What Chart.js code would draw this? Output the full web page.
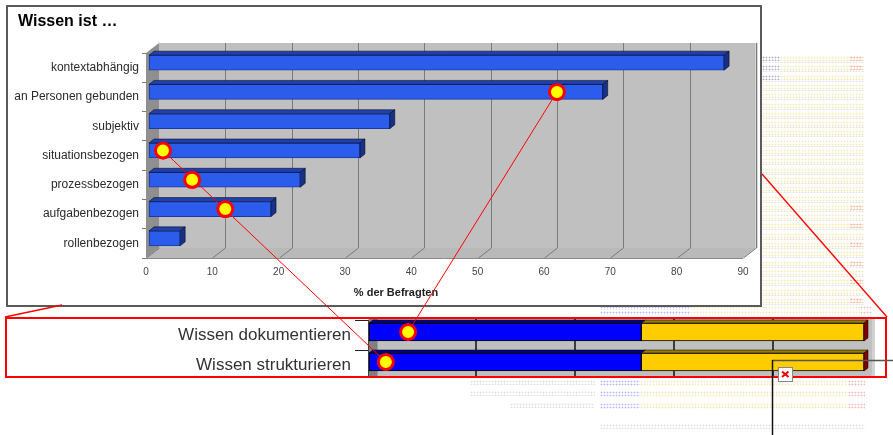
<!DOCTYPE html>
<html><head><meta charset="utf-8">
<script src="https://cdn.jsdelivr.net/npm/chart.js@4.4.0/dist/chart.umd.min.js"></script>
<style>
html,body{margin:0;padding:0;background:#fff;width:893px;height:435px;overflow:hidden;}
body{position:relative;font-family:Arial,"Liberation Sans",sans-serif;}
#topBox{position:absolute;left:6px;top:5px;width:752px;height:298px;border:2px solid #5a5a5a;background:#fff;z-index:2;}
#topBox canvas{position:absolute;left:0;top:0;}
#botBox{position:absolute;left:5px;top:317px;width:878px;height:57px;border:2px solid #ff0000;background:#fff;overflow:hidden;z-index:2;}
#botBox canvas{position:absolute;left:0;top:-20px;}
#overlay{position:absolute;left:0;top:0;z-index:5;pointer-events:none;}
.ghost{position:absolute;z-index:1;background-size:3px 3px;}
</style>
</head><body>
<div id="topBox"><canvas id="topChart" width="752" height="296"></canvas></div>
<div id="botBox"><canvas id="botChart" width="878" height="100"></canvas></div>
<canvas id="overlay" width="893" height="435"></canvas>
<script>
// ---------- data ----------
const categories = ['kontextabhängig','an Personen gebunden','subjektiv','situationsbezogen','prozessbezogen','aufgabenbezogen','rollenbezogen'];
const shares = [86.7, 68.4, 36.3, 31.8, 22.8, 18.4, 4.7];
const xMin = 0, xMax = 90, xStep = 10;
const markerCats = ['situationsbezogen','prozessbezogen','aufgabenbezogen','an Personen gebunden'];
const markerVals = [2.1, 6.5, 11.5, 61.5];

const activities = ['Wissen dokumentieren','Wissen strukturieren'];
const blueShare = [55, 55];
const yellowShare = [45, 45];
const activityMarkerVals = [7.9, 3.4];

const chartTitle = 'Wissen ist …';
const axisTitle = '% der Befragten';

Chart.defaults.font.family = 'Arial, "Liberation Sans", sans-serif';

function poly(ctx, pts, fill, stroke){
  ctx.beginPath(); ctx.moveTo(pts[0][0], pts[0][1]);
  for (let i=1;i<pts.length;i++) ctx.lineTo(pts[i][0], pts[i][1]);
  ctx.closePath();
  if (fill){ ctx.fillStyle = fill; ctx.fill(); }
  if (stroke){ ctx.strokeStyle = stroke; ctx.lineWidth = 1; ctx.stroke(); }
}
function barFaces(ctx, el, d, dd, topCol, sideCol, side){
  const p = el.getProps(['x','y','base','height'], true);
  const t = p.y - p.height/2, b = p.y + p.height/2;
  const x0 = Math.min(p.x, p.base), x1 = Math.max(p.x, p.base);
  poly(ctx, [[x0,t],[x1,t],[x1+d,t-dd],[x0+d,t-dd]], topCol, 'rgba(0,0,0,0.5)');
  if (side) poly(ctx, [[x1,t],[x1+d,t-dd],[x1+d,b-dd],[x1,b]], sideCol, 'rgba(0,0,0,0.5)');
}

// ---------- top chart ----------
const TOP = {dx:13, dy:10, bd:5, bdd:4, tx:3, ty:-5};
const top3d = {
  id:'top3d',
  beforeDatasetsDraw(chart){
    const ctx = chart.ctx, a = chart.chartArea, xs = chart.scales.x;
    const L=a.left, R=a.right, T=a.top, B=a.bottom, dx=TOP.dx, dy=TOP.dy;
    ctx.save();
    ctx.fillStyle = '#C0C0C0'; ctx.fillRect(L+dx, T-dy, R-L, B-T);
    ctx.fillStyle = '#D6D6D6'; ctx.fillRect(R+dx-1, T-dy, 3, B-T);
    poly(ctx, [[L,B],[R,B],[R+dx,B-dy],[L+dx,B-dy]], '#B9B9B9');
    poly(ctx, [[L,T],[L+dx,T-dy],[L+dx,B-dy],[L,B]], '#8F8F8F');
    ctx.strokeStyle = '#7A7A7A'; ctx.lineWidth = 1;
    xs.ticks.forEach(tk => {
      const x = Math.round(xs.getPixelForValue(tk.value)) + 0.5;
      ctx.beginPath();
      if (tk.value > xMin){ ctx.moveTo(x+dx, T-dy); ctx.lineTo(x+dx, B-dy); }
      ctx.moveTo(x, B); ctx.lineTo(x+dx, B-dy);
      ctx.stroke();
    });
    ctx.strokeStyle = '#8A8A8A';
    ctx.beginPath(); ctx.moveTo(L, B+0.5); ctx.lineTo(R, B+0.5); ctx.stroke();
    ctx.restore();
  },
  beforeDatasetDraw(chart){ chart.ctx.save(); chart.ctx.translate(TOP.tx, TOP.ty); },
  afterDatasetDraw(chart, args){
    const ctx = chart.ctx;
    if (args.index === 0){
      chart.getDatasetMeta(0).data.forEach(el => barFaces(ctx, el, TOP.bd, TOP.bdd, '#1F40B0', '#17308A', true));
    }
    ctx.restore();
  },
  afterDraw(chart){
    const ctx = chart.ctx;
    ctx.save();
    ctx.fillStyle = '#000'; ctx.textAlign = 'left'; ctx.textBaseline = 'middle';
    ctx.font = 'bold 16px Arial, "Liberation Sans", sans-serif';
    ctx.fillText(chartTitle, 10, 15);
    ctx.fillStyle = '#222'; ctx.textAlign = 'center';
    ctx.font = 'bold 11px Arial, "Liberation Sans", sans-serif';
    ctx.fillText(axisTitle, 388, 286);
    ctx.restore();
  }
};

const topChart = new Chart(document.getElementById('topChart'), {
  type:'bar',
  data:{
    labels: categories,
    datasets:[
      {type:'bar', indexAxis:'y', data: shares, backgroundColor:'#2B5CEB', borderColor:'#1A3A9E', borderWidth:1, borderSkipped:false, barThickness:15, clip:false},
      {type:'line', indexAxis:'y', showLine:false, clip:false,
       data: markerCats.map((c,i)=>({x: markerVals[i], y: c})),
       pointRadius:7.5, pointBorderWidth:3, pointBackgroundColor:'#FFFF00', pointBorderColor:'#FF0000'}
    ]
  },
  options:{
    indexAxis:'y', responsive:false, animation:false, devicePixelRatio:1,
    layout:{padding:{left:0, right:17, top:46, bottom:0}},
    plugins:{legend:{display:false}, tooltip:{enabled:false}, title:{display:false}},
    scales:{
      x:{type:'linear', min:xMin, max:xMax,
         ticks:{stepSize:xStep, font:{size:10}, color:'#444', padding:8},
         grid:{display:false, drawTicks:false}, border:{display:false},
         afterFit(s){ s.height = 45; }},
      y:{type:'category',
         ticks:{font:{size:12}, color:'#2a2a2a', padding:3},
         grid:{display:true, drawOnChartArea:false, drawTicks:true, tickLength:4, color:'#777'},
         border:{display:false},
         afterFit(s){ s.width = 138; }}
    }
  },
  plugins:[top3d]
});

// ---------- bottom chart ----------
const BOT = {dx:9, bd:4, bdd:3, tx:1, ty:-3};
const bot3d = {
  id:'bot3d',
  beforeDatasetsDraw(chart){
    const ctx = chart.ctx, a = chart.chartArea, xs = chart.scales.x;
    const L=a.left, R=a.right, dx=BOT.dx, H=chart.height;
    ctx.save();
    ctx.fillStyle = '#C0C0C0'; ctx.fillRect(L+dx, 0, R-L, H);
    ctx.fillStyle = '#D2D2D2'; ctx.fillRect(R+dx, 0, 3, H);
    ctx.fillStyle = '#7F7F7F'; ctx.fillRect(L+0.5, 0, dx, H);
    ctx.strokeStyle = '#111'; ctx.lineWidth = 1.5;
    xs.ticks.forEach(tk => {
      if (tk.value <= xs.min || tk.value >= xs.max) return;
      const x = Math.round(xs.getPixelForValue(tk.value)) + dx;
      ctx.beginPath(); ctx.moveTo(x, 0); ctx.lineTo(x, H); ctx.stroke();
    });
    ctx.restore();
  },
  beforeDatasetDraw(chart){ chart.ctx.save(); chart.ctx.translate(BOT.tx, BOT.ty); },
  afterDatasetDraw(chart, args){
    const ctx = chart.ctx;
    if (args.index === 0) chart.getDatasetMeta(0).data.forEach(el => barFaces(ctx, el, BOT.bd, BOT.bdd, '#000080', '#000060', false));
    if (args.index === 1) chart.getDatasetMeta(1).data.forEach(el => barFaces(ctx, el, BOT.bd, BOT.bdd, '#9A7A00', '#800000', true));
    ctx.restore();
  }
};

const botChart = new Chart(document.getElementById('botChart'), {
  type:'bar',
  data:{
    labels: activities,
    datasets:[
      {type:'bar', indexAxis:'y', data: blueShare, backgroundColor:'#0000FF', borderColor:'#000', borderWidth:1, borderSkipped:false, barThickness:18, clip:false, stack:'s'},
      {type:'bar', indexAxis:'y', data: yellowShare, backgroundColor:'#FFCC00', borderColor:'#000', borderWidth:1, borderSkipped:false, barThickness:18, clip:false, stack:'s'},
      {type:'line', indexAxis:'y', showLine:false, clip:false, stack:'m',
       data: activities.map((c,i)=>({x: activityMarkerVals[i], y: c})),
       pointRadius:7.5, pointBorderWidth:3, pointBackgroundColor:'#FFFF00', pointBorderColor:'#FF0000'}
    ]
  },
  options:{
    indexAxis:'y', responsive:false, animation:false, devicePixelRatio:1,
    layout:{padding:{left:0, right:22, top:21, bottom:0}},
    plugins:{legend:{display:false}, tooltip:{enabled:false}},
    scales:{
      x:{type:'linear', min:0, max:100, stacked:true,
         ticks:{display:false, stepSize:20}, grid:{display:false, drawTicks:false}, border:{display:false},
         afterFit(s){ s.height = 19; }},
      y:{type:'category', stacked:true,
         ticks:{font:{size:17}, color:'#333', padding:4},
         grid:{display:true, drawOnChartArea:false, drawTicks:true, tickLength:13, color:'#222'},
         border:{display:true, color:'#000', width:1},
         afterFit(s){ s.width = 361; }}
    }
  },
  plugins:[bot3d]
});

// ---------- ghost background (faint underlying chart) ----------
function ghost(x, y, w, h, col){
  const d = document.createElement('div');
  d.className = 'ghost';
  d.style.left = x+'px'; d.style.top = y+'px'; d.style.width = w+'px'; d.style.height = h+'px';
  d.style.backgroundImage = 'radial-gradient(circle, '+col+' 0.8px, transparent 1.1px)';
  document.body.appendChild(d);
}
const Y = 'rgba(235,205,80,0.45)', Bl = 'rgba(110,110,255,0.5)', Rd = 'rgba(235,110,110,0.5)', G = 'rgba(150,150,150,0.3)';
for (let y = 56, r = 0; y < 300; y += 9.3, r++){
  ghost(762, y, 102, 5, Y);
  if (r < 3) ghost(762, y, 18, 5, Bl);
  if (r < 2 || (r > 14 && r % 2 === 0)) ghost(850, y, 13, 5, Rd);
  ghost(762, y+5, 102, 2, G);
}
[306, 311].forEach(y=>{ ghost(600, y, 90, 4, Bl); ghost(690, y, 170, 4, Y); ghost(860, y, 12, 4, Rd); });
[380, 391, 403].forEach((y,i)=>{ ghost(600, y, 40, 6, Bl); ghost(640, y, 208, 6, Y); ghost(848, y, 17, 6, Rd); ghost(470+(i===2?40:0), y, 125-(i===2?40:0), 5, G); });
ghost(600, 424, 265, 5, G);

// ---------- overlay: connectors, callouts ----------
(function(){
  const ov = document.getElementById('overlay').getContext('2d');
  const topOff = [8, 7], botOff = [7, 299];
  const tp = i => { const e = topChart.getDatasetMeta(1).data[i]; return [e.x + TOP.tx + topOff[0], e.y + TOP.ty + topOff[1]]; };
  const bp = i => { const e = botChart.getDatasetMeta(2).data[i]; return [e.x + BOT.tx + botOff[0], e.y + BOT.ty + botOff[1]]; };
  const line = (a, b, col, w) => { ov.beginPath(); ov.moveTo(a[0], a[1]); ov.lineTo(b[0], b[1]); ov.strokeStyle = col; ov.lineWidth = w; ov.stroke(); };

  // zoom callout lines (red)
  line([5, 317], [62, 305], '#FF0000', 1.5);
  line([887, 317], [762, 174], '#FF0000', 1.3);

  // black leader line with small icon
  line([772, 360.5], [893, 360.5], '#555', 1.5);
  line([772.5, 360], [772.5, 435], '#111', 1.5);
  ov.fillStyle = '#fff'; ov.fillRect(778, 367, 14, 14);
  ov.strokeStyle = '#888'; ov.lineWidth = 1; ov.strokeRect(778.5, 367.5, 14, 14);
  line([782, 371.5], [788.5, 377], '#e00', 2);
  line([788.5, 371.5], [782, 377], '#e00', 2);

  // connectors between marked points
  const pairs = [[3, 0], [0, 1]];
  pairs.forEach(([ti, bi]) => line(tp(ti), bp(bi), '#FF0000', 1));
  const circ = p => { ov.beginPath(); ov.arc(p[0], p[1], 7.5, 0, Math.PI*2); ov.fillStyle = '#FFFF00'; ov.fill(); ov.lineWidth = 3; ov.strokeStyle = '#FF0000'; ov.stroke(); };
  markerCats.forEach((c, i) => circ(tp(i)));
  activities.forEach((c, i) => circ(bp(i)));
})();
</script>
</body></html>
